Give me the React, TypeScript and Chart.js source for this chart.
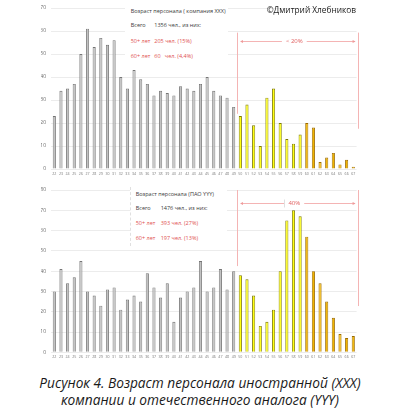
import React, { useEffect, useRef } from "react";
import { Chart, registerables } from "chart.js";

Chart.register(...registerables);

const ages = [
  "22", "23", "24", "25", "26", "27", "28", "29", "30", "31", "32", "33", "34", "35", "36", "37",
  "38", "39", "40", "41", "42", "43", "44", "45", "46", "47", "48", "49", "50", "51", "52", "53",
  "54", "55", "56", "57", "58", "59", "60", "61", "62", "63", "64", "65", "66", "67",
];

const xxxCounts = [
  23, 34, 35, 37, 50, 61, 53, 57, 54, 56, 40, 35, 43, 39, 37, 32,
  34, 33, 32, 36, 35, 34, 37, 40, 34, 32, 31, 27, 23, 28, 19, 10,
  31, 35, 20, 13, 11, 15, 20, 18, 3, 5, 7, 2, 4, 1,
];

const yyyCounts = [
  30, 41, 34, 37, 45, 30, 28, 23, 31, 32, 21, 26, 28, 25, 39, 32,
  27, 34, 15, 27, 30, 32, 45, 30, 32, 41, 31, 40, 38, 36, 28, 13,
  15, 21, 40, 65, 70, 67, 57, 40, 34, 25, 17, 9, 7, 8,
];

const yTicksTop = [0, 10, 20, 30, 40, 50, 60, 70];
const yTicksBottom = [0, 10, 20, 30, 40, 50, 60, 70, 80];

function fillFor(age: string) {
  const a = Number(age);
  if (a >= 60) return "#f0b400";
  if (a >= 50) return "#ffff10";
  return "#c2c2c2";
}
function borderFor(age: string) {
  const a = Number(age);
  if (a >= 60) return "#9a6a00";
  if (a >= 50) return "#7d7a00";
  return "#757575";
}

const bracketPlugin = {
  id: "bracket",
  afterDatasetsDraw(chart: any, _args: any, opts: any) {
    if (!opts || !opts.label) return;
    const { ctx } = chart;
    const x = chart.scales.x;
    const y = chart.scales.y;
    const fromIdx = ages.indexOf(opts.from);
    const toIdx = ages.indexOf(opts.to);
    const half = (x.getPixelForValue(1) - x.getPixelForValue(0)) / 2;
    const xl = x.getPixelForValue(fromIdx) - half;
    const xr = x.getPixelForValue(toIdx) + half + 1;
    const yt = y.getPixelForValue(opts.top);
    const yl = y.getPixelForValue(opts.leftBottom);
    const yr = y.getPixelForValue(opts.rightBottom);
    const ya = Math.round(y.getPixelForValue(opts.arrow)) + 0.5;
    ctx.save();
    ctx.strokeStyle = "#f4b4b4";
    ctx.fillStyle = "#ef9a9a";
    ctx.lineWidth = 1;
    ctx.beginPath();
    ctx.moveTo(Math.round(xl) + 0.5, yt);
    ctx.lineTo(Math.round(xl) + 0.5, yl);
    ctx.moveTo(Math.round(xr) + 0.5, yt);
    ctx.lineTo(Math.round(xr) + 0.5, yr);
    ctx.stroke();
    const cx = (xl + xr) / 2 - 3;
    ctx.font = "6px 'Open Sans'";
    const tw = ctx.measureText(opts.label).width;
    const a1 = xl + 4;
    const a2 = xr - 3;
    ctx.beginPath();
    ctx.moveTo(a1, ya);
    ctx.lineTo(cx - tw / 2 - 4, ya);
    ctx.moveTo(cx + tw / 2 + 4, ya);
    ctx.lineTo(a2, ya);
    ctx.stroke();
    if (opts.tick) {
      ctx.beginPath();
      ctx.moveTo(Math.round(cx - tw / 2 - 4) + 0.5, ya - 4);
      ctx.lineTo(Math.round(cx - tw / 2 - 4) + 0.5, ya + 4);
      ctx.strokeStyle = "#e0e0e0";
      ctx.stroke();
    }
    ctx.beginPath();
    ctx.moveTo(a1 - 1, ya);
    ctx.lineTo(a1 + 2, ya - 1.5);
    ctx.lineTo(a1 + 2, ya + 1.5);
    ctx.closePath();
    ctx.moveTo(a2 + 1, ya);
    ctx.lineTo(a2 - 2, ya - 1.5);
    ctx.lineTo(a2 - 2, ya + 1.5);
    ctx.closePath();
    ctx.fill();
    ctx.fillStyle = "#e06060";
    ctx.textAlign = "center";
    ctx.textBaseline = "middle";
    ctx.fillText(opts.label, cx, ya);
    ctx.restore();
  },
};

type ChartProps = {
  values: number[];
  ticks: number[];
  max: number;
  width: number;
  height: number;
  padTop: number;
  padBottom: number;
  bracket: any;
};

function AgeChart({ values, ticks, max, width, height, padTop, padBottom, bracket }: ChartProps) {
  const ref = useRef<HTMLCanvasElement | null>(null);
  useEffect(() => {
    if (!ref.current) return;
    const chart = new Chart(ref.current, {
      type: "bar",
      data: {
        labels: ages,
        datasets: [
          {
            data: values,
            backgroundColor: ages.map(fillFor),
            borderColor: ages.map(borderFor),
            borderWidth: 0.9,
            categoryPercentage: 1,
            barPercentage: 0.47,
          },
        ],
      },
      options: {
        responsive: false,
        animation: false,
        events: [],
        layout: { padding: { left: 41, right: 43.4, top: padTop, bottom: padBottom } },
        plugins: {
          legend: { display: false },
          tooltip: { enabled: false },
          bracket,
        } as any,
        scales: {
          x: {
            grid: { display: false, drawTicks: false },
            border: { display: false },
            ticks: {
              autoSkip: false,
              maxRotation: 0,
              minRotation: 0,
              padding: 3,
              font: { size: 3.6, family: "'Open Sans'" },
              color: "#7a7a7a",
            },
            afterFit: (s: any) => {
              s.height = 11;
            },
          },
          y: {
            min: 0,
            max,
            afterBuildTicks: (s: any) => {
              s.ticks = ticks.map((v) => ({ value: v }));
            },
            grid: { color: "#ececec", lineWidth: 1, drawTicks: false },
            border: { display: false },
            ticks: {
              padding: 5,
              font: { size: 5, family: "'Open Sans'" },
              color: "#6a6a6a",
            },
            afterFit: (s: any) => {
              s.width = 10;
            },
          },
        },
      },
      plugins: [bracketPlugin as any],
    });
    return () => chart.destroy();
  }, []);
  return <canvas ref={ref} width={width} height={height} style={{ width, height, display: "block" }} />;
}

const textFont = "'Open Sans', sans-serif";

function T({ x, y, size, color, children, italic }: any) {
  return (
    <div
      style={{
        position: "absolute",
        left: x,
        top: y - size * 0.7,
        fontSize: size,
        lineHeight: `${size * 1.4}px`,
        color,
        fontFamily: textFont,
        fontStyle: italic ? "italic" : "normal",
        whiteSpace: "pre",
      }}
    >
      {children}
    </div>
  );
}

export default function App() {
  const dark = "#3a3a3a";
  const red = "#e05050";
  const ts = 5.5;
  const hs = 5.5;
  return (
    <div style={{ position: "absolute", left: 0, top: 0, width: 400, height: 418, background: "#fff", overflow: "hidden" }}>
      <div style={{ position: "absolute", left: 0, top: 0 }}>
        <AgeChart
          values={xxxCounts}
          ticks={yTicksTop}
          max={70}
          width={400}
          height={180}
          padTop={5}
          padBottom={0}
          bracket={{ label: "< 20%", from: "50", to: "67", top: 59.3, leftBottom: 24, rightBottom: 17.5, arrow: 55.8 }}
        />
      </div>
      <div style={{ position: "absolute", left: 0, top: 180 }}>
        <AgeChart
          values={yyyCounts}
          ticks={yTicksBottom}
          max={80}
          width={400}
          height={185}
          padTop={10}
          padBottom={1.7}
          bracket={{ label: "40%", from: "50", to: "67", top: 80, leftBottom: 42.5, rightBottom: 22.8, arrow: 73.7, tick: true }}
        />
      </div>

      <div style={{ position: "absolute", left: 125, top: 7, width: 103, height: 55, background: "#fff" }} />
      <T x={130.7} y={12.3} size={hs} color={dark}>Возраст персонала ( компания XXX)</T>
      <T x={130.7} y={26} size={ts} color={dark}>Всего</T>
      <T x={154.3} y={26} size={ts} color={dark}>1356 чел., из них:</T>
      <T x={130.7} y={42} size={ts} color={red}>50+ лет</T>
      <T x={154.3} y={42} size={ts} color={red}>205 чел. (15%)</T>
      <T x={130.7} y={56.7} size={ts} color={red}>60+ лет</T>
      <T x={154.3} y={56.7} size={ts} color={red}>60   чел. (4,4%)</T>

      <div style={{ position: "absolute", left: 130, top: 187, width: 96, height: 59, background: "#fff", borderLeft: "1px dashed #e0e0e0" }} />
      <T x={135.7} y={195} size={hs} color={dark}>Возраст персонала (ПАО YYY)</T>
      <T x={135.7} y={209.3} size={ts} color={dark}>Всего</T>
      <T x={160.7} y={209.3} size={ts} color={dark}>1476 чел., из них:</T>
      <T x={135.7} y={223.7} size={ts} color={red}>50+ лет</T>
      <T x={160.7} y={223.7} size={ts} color={red}>393 чел. (27%)</T>
      <T x={135.7} y={239} size={ts} color={red}>60+ лет</T>
      <T x={160.7} y={239} size={ts} color={red}>197 чел. (13%)</T>

      <T x={266.7} y={10} size={8.3} color="#222">©Дмитрий Хлебников</T>

      <div
        style={{
          position: "absolute",
          left: 0,
          top: 374,
          width: 400,
          textAlign: "center",
          fontFamily: textFont,
          fontStyle: "italic",
          fontSize: 13.7,
          lineHeight: "17px",
          color: "#1a1a1a",
        }}
      >
        Рисунок 4. Возраст персонала иностранной (XXX)
        <br />
        компании и отечественного аналога (YYY)
      </div>
    </div>
  );
}
